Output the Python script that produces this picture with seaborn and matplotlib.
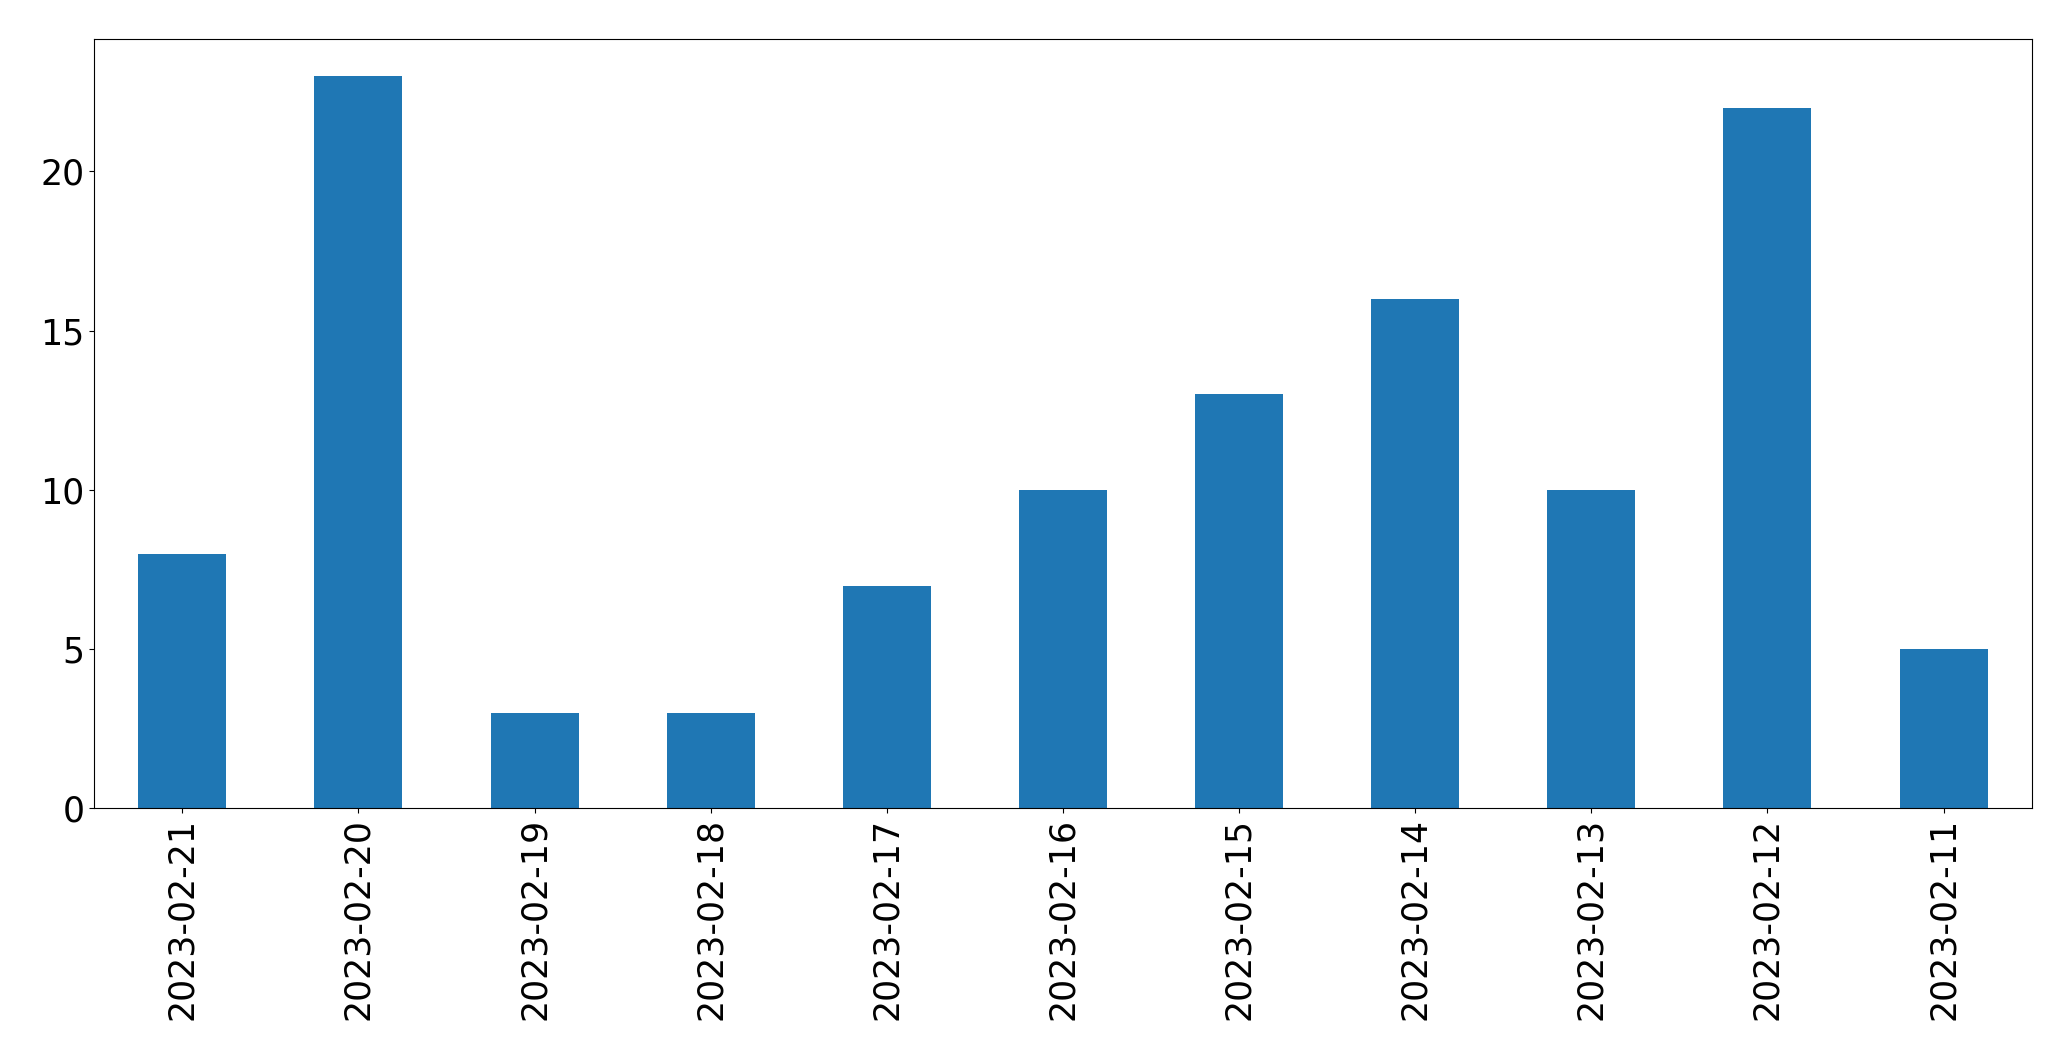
import pandas as pd
import matplotlib
matplotlib.use('Agg')
import matplotlib.pyplot as plt
import seaborn as sns

# daily counts, newest first
dates = ['2023-02-21', '2023-02-20', '2023-02-19', '2023-02-18', '2023-02-17',
         '2023-02-16', '2023-02-15', '2023-02-14', '2023-02-13', '2023-02-12',
         '2023-02-11']
counts = [8, 23, 3, 3, 7, 10, 13, 16, 10, 22, 5]

data = pd.DataFrame({'date': dates, 'count': counts})

fig, ax = plt.subplots(figsize=(20.71, 10.61), dpi=100)
sns.barplot(data=data, x='date', y='count', color='#1f77b4', saturation=1,
            width=0.5, linewidth=0, ax=ax)

ax.set_xlim(-0.5, len(dates) - 0.5)
ax.set_ylim(0, max(counts) * 1.05)
ax.set(xlabel='', ylabel='')
ax.tick_params(axis='both', labelsize=25)
plt.setp(ax.get_xticklabels(), rotation=90)

plt.subplots_adjust(left=0.0455, right=0.981, top=0.963, bottom=0.238)
plt.savefig('out.png', dpi=100)
